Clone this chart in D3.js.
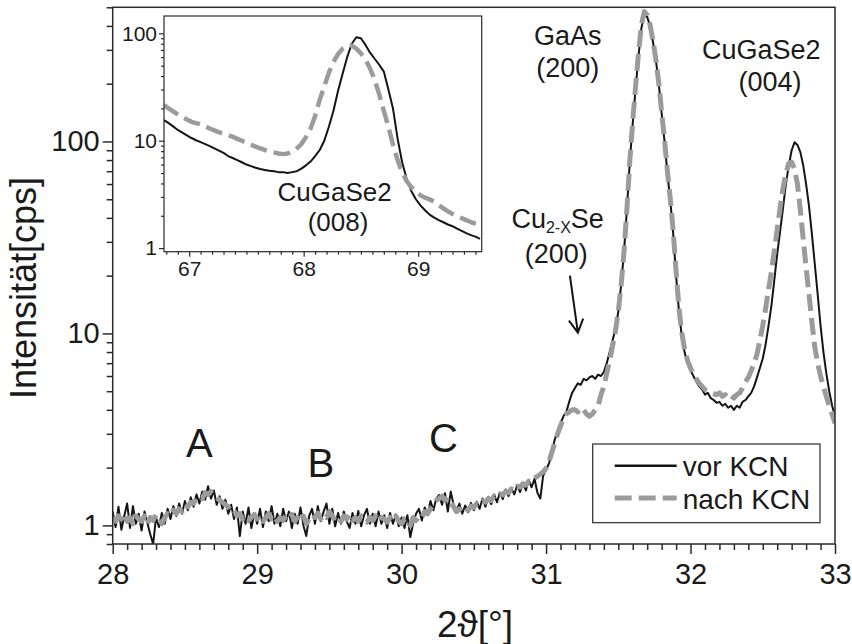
<!DOCTYPE html>
<html>
<head>
<meta charset="utf-8">
<script src="https://cdn.jsdelivr.net/npm/d3@7"></script>
<style>
  body { margin: 0; background: #fff; }
  svg text { font-family: "Liberation Sans", Arial, sans-serif; fill: #1a1a1a; }
</style>
</head>
<body>
<div id="chart"></div>
<script>
// main scan: 2theta from 28.00 to 33.00 in steps of 0.02 (one row = 0.2 deg)
var main_start = 28.0;
var main_step = 0.02;

var vor_kcn = [
  1.18, 0.98, 1.25, 0.95, 1.12, 1.30, 0.97, 1.26, 1.02, 1.15,
  0.94, 1.18, 1.03, 0.90, 0.80, 1.10, 0.98, 1.16, 1.02, 1.22,
  1.08, 1.26, 1.12, 1.30, 1.15, 1.34, 1.20, 1.40, 1.25, 1.45,
  1.30, 1.50, 1.36, 1.60, 1.38, 1.52, 1.28, 1.42, 1.22, 1.36,
  1.15, 1.28, 1.08, 1.24, 0.88, 1.18, 1.02, 1.24, 0.97, 1.16,
  1.02, 1.22, 0.98, 1.18, 1.05, 1.26, 1.02, 1.15, 0.99, 1.22,
  1.05, 1.18, 0.97, 1.15, 1.02, 1.24, 1.00, 0.88, 1.12, 1.22,
  1.02, 1.26, 1.05, 1.18, 1.30, 1.02, 1.22, 0.99, 1.16, 1.02,
  1.18, 1.05, 0.97, 1.16, 1.02, 1.19, 0.99, 1.13, 1.22, 1.02,
  1.15, 0.99, 1.18, 1.02, 1.13, 0.97, 1.16, 1.02, 1.14, 0.99,
  1.10, 0.97, 1.13, 0.87, 1.03, 1.15, 1.22, 1.06, 1.24, 1.13,
  1.34, 1.20, 1.38, 1.44, 1.28, 1.47, 1.18, 1.50, 1.28, 1.20,
  1.30, 1.15, 1.27, 1.17, 1.31, 1.20, 1.33, 1.22, 1.38, 1.25,
  1.41, 1.29, 1.45, 1.32, 1.48, 1.37, 1.54, 1.42, 1.56, 1.45,
  1.62, 1.49, 1.66, 1.52, 1.72, 1.58, 1.75, 1.48, 1.38, 1.82,
  1.95, 2.1, 2.4, 2.8, 3.1, 3.4, 3.7, 3.9, 4.4, 4.9,
  5.2, 5.5, 5.4, 5.8, 5.7, 5.9, 6.0, 5.8, 6.1, 6.0,
  6.3, 7.0, 8.0, 9.2, 10.5, 13, 18, 27, 45, 80,
  125, 190, 280, 390, 460, 445, 400, 330, 265, 200,
  140, 100, 68, 49, 33, 20, 13, 9.6, 7.9, 7.0,
  6.4, 6.0, 5.6, 5.3, 5.1, 4.8, 4.9, 4.6, 4.5, 4.35,
  4.4, 4.2, 4.3, 4.1, 4.2, 4.0, 4.2, 4.1, 4.4, 4.5,
  4.7, 4.9, 5.3, 5.9, 6.6, 7.4, 8.8, 11, 14, 19,
  26, 34, 45, 60, 75, 90, 99, 96, 88, 75,
  60, 46, 33, 23, 16, 11, 8.0, 6.2, 5.0, 4.2,
  3.7
];

var nach_kcn = [
  1.10, 1.05, 1.12, 1.08, 1.15, 1.05, 1.10, 1.02, 1.12, 1.08,
  1.05, 1.12, 1.02, 1.10, 1.06, 1.14, 1.08, 1.02, 1.10, 1.15,
  1.12, 1.20, 1.15, 1.22, 1.18, 1.28, 1.25, 1.32, 1.30, 1.38,
  1.42, 1.38, 1.48, 1.45, 1.50, 1.42, 1.40, 1.35, 1.32, 1.28,
  1.25, 1.18, 1.20, 1.12, 1.15, 1.08, 1.12, 1.06, 1.10, 1.14,
  1.08, 1.12, 1.05, 1.10, 1.15, 1.08, 1.12, 1.05, 1.10, 1.06,
  1.12, 1.08, 1.14, 1.05, 1.10, 1.04, 1.12, 1.02, 1.08, 1.14,
  1.10, 1.16, 1.08, 1.14, 1.10, 1.18, 1.12, 1.06, 1.10, 1.05,
  1.12, 1.08, 1.14, 1.06, 1.10, 1.05, 1.12, 1.08, 1.04, 1.10,
  1.06, 1.12, 1.05, 1.10, 1.08, 1.04, 1.10, 1.06, 1.12, 1.05,
  1.02, 1.08, 1.05, 1.00, 1.10, 1.06, 1.12, 1.10, 1.18, 1.15,
  1.22, 1.28, 1.35, 1.38, 1.42, 1.35, 1.40, 1.32, 1.25, 1.18,
  1.22, 1.18, 1.24, 1.20, 1.26, 1.24, 1.30, 1.28, 1.34, 1.32,
  1.38, 1.35, 1.42, 1.40, 1.46, 1.44, 1.50, 1.48, 1.55, 1.52,
  1.60, 1.58, 1.65, 1.62, 1.70, 1.68, 1.76, 1.80, 1.85, 1.90,
  1.98, 2.15, 2.4, 2.7, 3.0, 3.3, 3.6, 3.8, 3.9, 4.0,
  4.0, 3.9, 4.1, 4.0, 3.8, 3.7, 3.8, 4.0, 4.2, 4.8,
  5.3, 6.2, 7.2, 8.6, 10.3, 13, 18, 27, 45, 80,
  128, 195, 290, 405, 475, 455, 405, 335, 268, 202,
  142, 102, 70, 50, 34, 21, 13.5, 10, 8.2, 7.2,
  6.6, 6.1, 5.8, 5.5, 5.3, 5.1, 5.0, 4.9, 4.85, 4.8,
  4.9, 4.7, 4.8, 4.6, 4.75, 4.6, 4.8, 4.9, 5.2, 5.6,
  5.9, 6.4, 7.0, 7.8, 9.2, 11, 13.5, 17, 21, 27,
  35, 45, 57, 68, 77, 78, 72, 60, 44, 31,
  22, 16, 11.5, 8.5, 7.0, 6.0, 5.3, 4.7, 4.2, 3.8,
  3.4
];

// inset scan around CuGaSe2 (008): 66.78 .. 69.54 in steps of 0.04
var inset_start = 66.78;
var inset_step = 0.04;

var inset_vor_kcn = [
  15.6, 14.6, 13.6, 12.6, 11.9, 11.2, 10.6, 10.1, 9.7, 9.3,
  8.9, 8.5, 8.1, 7.7, 7.2, 6.9, 6.6, 6.3, 6.0, 5.8,
  5.6, 5.45, 5.35, 5.25, 5.2, 5.1, 5.1, 5.0, 5.1, 5.2,
  5.5, 5.9, 6.4, 7.2, 8.2, 10, 13.5, 19, 29, 42,
  60, 80, 92, 90, 78, 66, 58, 51, 44, 30,
  20, 10.5, 6.3, 4.4, 3.4, 2.85, 2.5, 2.25, 2.05, 1.92,
  1.82, 1.74, 1.66, 1.6, 1.52, 1.45, 1.38, 1.32, 1.28, 1.22
];

var inset_nach_kcn = [
  21.5, 20.0, 18.8, 17.6, 16.6, 15.8, 15.0, 14.6, 14.2, 13.6,
  13.0, 12.5, 12.0, 11.6, 11.2, 10.9, 10.4, 10.0, 9.6, 9.2,
  8.8, 8.5, 8.2, 8.0, 7.8, 7.6, 7.5, 7.6, 7.9, 8.5,
  9.3, 10.8, 13.0, 17, 24, 32, 43, 54, 64, 72,
  77, 77, 72, 65, 57, 47, 37, 27, 19, 13.5,
  9.2, 6.6, 5.1, 4.2, 3.7, 3.35, 3.1, 2.95, 2.85, 2.7,
  2.5, 2.35, 2.2, 2.08, 1.98, 1.9, 1.82, 1.75, 1.69, 1.64
];

var main_x_ticks = [28, 29, 30, 31, 32, 33];
var main_y_ticks = [1, 10, 100];
var inset_x_ticks = [67, 68, 69];
var inset_y_ticks = [1, 10, 100];
var legend_labels = ['vor KCN', 'nach KCN'];

function XrdPlotter() {
  this._width = 852;
  this._height = 644;
  this._black = '#141414';
  this._grey = '#9b9b9b';
  this._axis_col = '#2a2a2a';
}

XrdPlotter.prototype._to_points = function(vals, start, step) {
  return vals.map(function(v, i) { return [start + i * step, v]; });
}

XrdPlotter.prototype._axes = function(g, x, y, x_ticks, y_ticks, cfg) {
  let self = this;
  let y0 = y.range()[0];
  let x0 = x.range()[0];
  let x_minor = x.ticks(Math.round((x.domain()[1] - x.domain()[0]) * 10))
    .filter(d => Math.abs(d - Math.round(d)) > 1e-6);
  let y_minor = y.ticks().filter(d => Math.abs(Math.log10(d) - Math.round(Math.log10(d))) > 1e-6);

  let style = function(ax) {
    ax.attr('font-family', '"Liberation Sans", Arial, sans-serif')
      .attr('font-size', cfg.font_size);
    ax.selectAll('line').attr('stroke', self._axis_col).attr('stroke-width', cfg.stroke);
    ax.selectAll('path.domain').remove();
    ax.selectAll('text').attr('fill', '#1a1a1a');
  };

  g.append('g').attr('transform', 'translate(0,' + y0 + ')')
    .call(d3.axisBottom(x).tickValues(x_minor).tickSize(cfg.minor).tickFormat(''))
    .call(style);
  g.append('g').attr('transform', 'translate(0,' + y0 + ')')
    .call(d3.axisBottom(x).tickValues(x_ticks).tickSize(cfg.major).tickPadding(cfg.x_pad).tickFormat(d3.format('d')))
    .call(style);
  g.append('g').attr('transform', 'translate(' + x0 + ',0)')
    .call(d3.axisLeft(y).tickValues(y_minor).tickSize(cfg.minor).tickFormat(''))
    .call(style);
  g.append('g').attr('transform', 'translate(' + x0 + ',0)')
    .call(d3.axisLeft(y).tickValues(y_ticks).tickSize(cfg.major).tickPadding(cfg.y_pad).tickFormat(d3.format('d')))
    .call(style);

  g.append('rect')
    .attr('x', x.range()[0]).attr('y', y.range()[1])
    .attr('width', x.range()[1] - x.range()[0])
    .attr('height', y.range()[0] - y.range()[1])
    .attr('fill', 'none')
    .attr('stroke', self._axis_col)
    .attr('stroke-width', cfg.stroke);
}

XrdPlotter.prototype._curves = function(g, x, y, black_pts, grey_pts, clip_id, cfg) {
  let line = d3.line().x(d => x(d[0])).y(d => y(d[1]));
  let cg = g.append('g').attr('clip-path', 'url(#' + clip_id + ')');
  cg.append('path').datum(black_pts)
    .attr('d', line)
    .attr('fill', 'none')
    .attr('stroke', this._black)
    .attr('stroke-width', cfg.black_w)
    .attr('stroke-linejoin', 'round');
  cg.append('path').datum(grey_pts)
    .attr('d', line)
    .attr('fill', 'none')
    .attr('stroke', this._grey)
    .attr('stroke-width', cfg.grey_w)
    .attr('stroke-dasharray', cfg.dash)
    .attr('stroke-linejoin', 'round');
}

XrdPlotter.prototype._clip = function(defs, id, x, y) {
  defs.append('clipPath').attr('id', id)
    .append('rect')
    .attr('x', x.range()[0]).attr('y', y.range()[1])
    .attr('width', x.range()[1] - x.range()[0])
    .attr('height', y.range()[0] - y.range()[1]);
}

XrdPlotter.prototype._label = function(g, txt, px, py, size) {
  return g.append('text')
    .attr('x', px).attr('y', py)
    .attr('text-anchor', 'middle')
    .attr('font-size', size + 'px')
    .text(txt);
}

XrdPlotter.prototype.plot = function(container) {
  let self = this;
  let svg = d3.select(container).append('svg:svg')
    .attr('width', this._width)
    .attr('height', this._height);
  let defs = svg.append('defs');

  // main panel
  let x = d3.scaleLinear().domain([28, 33]).range([112.7, 835]);
  let y = d3.scaleLog().domain([0.8, 500]).range([544, 7.3]);
  this._clip(defs, 'clip-main', x, y);

  let main = svg.append('g');
  this._curves(main, x, y,
    this._to_points(vor_kcn, main_start, main_step),
    this._to_points(nach_kcn, main_start, main_step),
    'clip-main', {black_w: 2, grey_w: 5, dash: '17,7'});
  this._axes(main, x, y, main_x_ticks, main_y_ticks,
    {font_size: '29px', major: 10, minor: 6, stroke: 1.5, x_pad: 9, y_pad: 3});

  // axis titles
  svg.append('text')
    .attr('transform', 'translate(36,288) rotate(-90)')
    .attr('text-anchor', 'middle')
    .attr('font-size', '36px')
    .text('Intensität[cps]');
  this._label(svg, '2ϑ[°]', 475, 637, 37);

  // peak annotations
  this._label(main, 'A', x(28.6), 457, 40);
  this._label(main, 'B', x(29.44), 477, 40);
  this._label(main, 'C', x(30.29), 452, 40);
  this._label(main, 'GaAs', x(31.15), 45, 27);
  this._label(main, '(200)', x(31.15), 77, 27);
  this._label(main, 'CuGaSe2', x(32.49), 59, 27);
  this._label(main, '(004)', x(32.55), 91, 27);

  let cu = main.append('text')
    .attr('x', x(31.08)).attr('y', 228)
    .attr('text-anchor', 'middle')
    .attr('font-size', '27px');
  cu.append('tspan').text('Cu');
  cu.append('tspan').attr('font-size', '16px').attr('dy', 5).text('2-X');
  cu.append('tspan').attr('dy', -5).text('Se');
  this._label(main, '(200)', x(31.07), 263, 27);

  // arrow pointing at the Cu2-xSe shoulder
  let a0 = [x(31.165), y(20)];
  let a1 = [x(31.22), y(10.1)];
  let ang = Math.atan2(a1[1] - a0[1], a1[0] - a0[0]);
  let head = 15, spread = 0.5;
  let h1 = [a1[0] - head * Math.cos(ang - spread), a1[1] - head * Math.sin(ang - spread)];
  let h2 = [a1[0] - head * Math.cos(ang + spread), a1[1] - head * Math.sin(ang + spread)];
  main.append('path')
    .attr('d', d3.line()([a0, a1]) + 'M' + h1 + 'L' + a1 + 'L' + h2)
    .attr('fill', 'none')
    .attr('stroke', this._black)
    .attr('stroke-width', 2);

  // legend
  let leg = main.append('g').attr('transform', 'translate(592.7,444)');
  leg.append('rect')
    .attr('width', 227.3).attr('height', 78.7)
    .attr('fill', '#fff')
    .attr('stroke', this._axis_col)
    .attr('stroke-width', 1.2);
  let rows = leg.selectAll('g.row')
    .data(legend_labels)
    .join('g')
    .attr('class', 'row')
    .attr('transform', function(d, i) { return 'translate(0,' + (21.7 + i * 32.3) + ')'; });
  rows.append('line')
    .attr('x1', 22).attr('x2', 84).attr('y1', 0).attr('y2', 0)
    .attr('stroke', (d, i) => i === 0 ? self._black : self._grey)
    .attr('stroke-width', (d, i) => i === 0 ? 2.5 : 5)
    .attr('stroke-dasharray', (d, i) => i === 0 ? null : '17,7');
  rows.append('text')
    .attr('x', 90).attr('y', 10.5)
    .attr('font-size', '28px')
    .text(d => d);

  // inset panel
  let xi = d3.scaleLinear().domain([66.78, 69.555]).range([164, 481.7]);
  let yi = d3.scaleLog().domain([0.926, 145]).range([251.7, 16]);
  this._clip(defs, 'clip-inset', xi, yi);
  let inset = svg.append('g');
  inset.append('rect')
    .attr('x', 164).attr('y', 16)
    .attr('width', 481.7 - 164).attr('height', 251.7 - 16)
    .attr('fill', '#fff');
  this._curves(inset, xi, yi,
    this._to_points(inset_vor_kcn, inset_start, inset_step),
    this._to_points(inset_nach_kcn, inset_start, inset_step),
    'clip-inset', {black_w: 2, grey_w: 4.5, dash: '17,7'});
  this._axes(inset, xi, yi, inset_x_ticks, inset_y_ticks,
    {font_size: '21px', major: 5, minor: 3, stroke: 1.2, x_pad: 4, y_pad: 2});
  this._label(inset, 'CuGaSe2', xi(68.27), 201, 26);
  this._label(inset, '(008)', xi(68.3), 231, 26);
}

var plotter = new XrdPlotter();
plotter.plot('#chart');
</script>
</body>
</html>
